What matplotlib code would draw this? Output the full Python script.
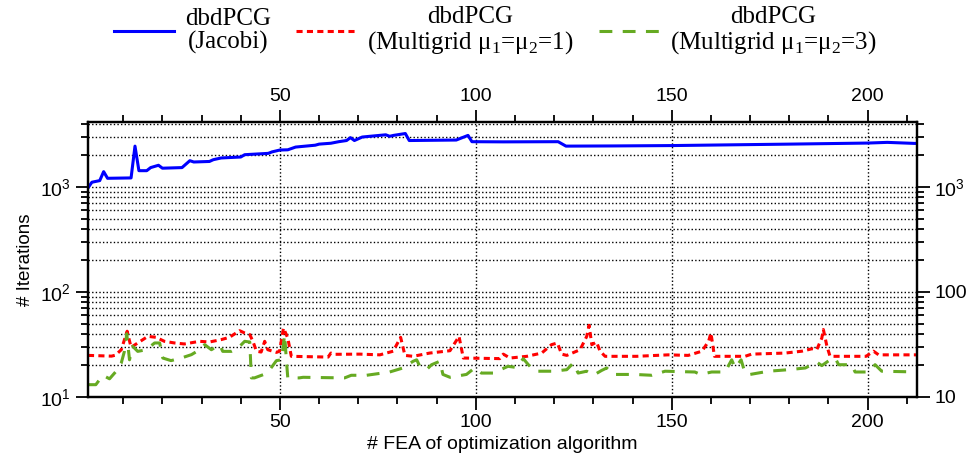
import matplotlib
matplotlib.use('Agg')
import matplotlib.pyplot as plt
from matplotlib.ticker import FixedLocator, FixedFormatter, MultipleLocator, LogLocator

plt.rcParams['font.family'] = 'Liberation Sans'

# dbdPCG with Jacobi preconditioner
jacobi_x = [1, 2, 4, 5, 6, 12, 13, 14, 16, 17, 19, 20, 25, 27, 28, 32, 33, 35, 40, 41,
            47, 48, 50, 52, 54, 59, 60, 63, 65, 67, 68, 69, 71, 73, 77, 78, 79, 82, 83,
            95, 98, 99, 107, 121, 123, 135, 150, 165, 180, 190, 200, 205, 212, 213]
jacobi_y = [980, 1110, 1150, 1400, 1210, 1220, 2450, 1430, 1430, 1530, 1610, 1510, 1530,
            1780, 1730, 1750, 1820, 1890, 1930, 2030, 2090, 2160, 2250, 2260, 2400, 2500,
            2560, 2610, 2700, 2770, 2950, 2770, 2990, 3040, 3140, 3040, 3100, 3230, 2770,
            2800, 3100, 2700, 2690, 2700, 2450, 2460, 2480, 2520, 2560, 2590, 2620, 2660,
            2600, 2600]

# dbdPCG with multigrid mu1=mu2=1
mg1_x = [1, 7, 8, 9.5, 11, 12, 13.7, 16.3, 18.4, 20.5, 23.1, 25.6, 29.5, 32, 35, 37.1,
         39.7, 41, 42.3, 43.1, 44, 45.2, 46.1, 46.9, 49.1, 49.9, 50.9, 52, 52.9, 62.3, 63,
         64, 70.4, 75.5, 78.9, 80.8, 81.9, 84, 88.2, 93.4, 95.7, 96.8, 106.1, 107, 108.7,
         113, 116.8, 119.3, 120.8, 121.9, 123.2, 126.6, 128.3, 128.9, 129.6, 130.8, 131.7,
         133, 141, 149.1, 154.2, 157.7, 159.4, 160, 160.9, 168.7, 170.4, 178.9, 183.2,
         185.8, 187, 188.3, 188.7, 189.6, 190.4, 199.6, 201.5, 202.8, 213]
mg1_y = [24.9, 24.5, 25, 28.2, 42.3, 29.7, 32.7, 37.8, 37, 33.9, 32.7, 32, 33.9, 33.4,
         35.2, 37, 42.8, 40.7, 39.3, 33.9, 27.3, 26.8, 33.9, 28.2, 26.6, 27.3, 45.4, 36.4,
         24.4, 24, 26.2, 25.5, 25.6, 25.2, 27.3, 37, 24.9, 24.4, 26.2, 27.6, 37.8, 23.5,
         23.2, 25.6, 23.5, 24.4, 26.2, 31.5, 32.7, 25.6, 24.9, 28.2, 37.8, 48.2, 31.5,
         33.4, 27.3, 24.4, 24.4, 25.2, 24.9, 27.3, 33.9, 40.7, 24.4, 24.4, 25.6, 26.2,
         27.3, 28.8, 28.2, 36.4, 43.9, 30.5, 24.4, 24.4, 27.3, 25.2, 25.2]

# dbdPCG with multigrid mu1=mu2=3
mg3_x = [1, 3, 4.8, 6.5, 8.2, 9.5, 10.3, 10.9, 11.6, 12.4, 13.7, 15.9, 18, 19.3, 20.1,
         22.2, 24.8, 27.4, 29.5, 30.8, 32.5, 34.6, 35.4, 37.6, 39.3, 41, 42.3, 42.7, 43.5,
         45.7, 47.4, 49.1, 50.4, 51.2, 51.6, 52, 54.9, 55.9, 66.5, 68.2, 72.1, 78, 81.4,
         84, 84.9, 85.7, 87.4, 88.7, 90.8, 91.6, 93.4, 97.6, 99.7, 101.4, 104.4, 108.2,
         110.4, 112.1, 113.4, 115.1, 119.7, 123.2, 124.9, 126.1, 128.3, 130, 132.1, 133.4,
         135.1, 140.6, 144.9, 148.3, 155.9, 157.3, 160.2, 163.6, 165.3, 166.2, 167.7,
         168.7, 170, 174.7, 179.8, 184.1, 187, 188.3, 190.4, 191.7, 192.6, 195.9, 196.8,
         200.2, 201.9, 203.6, 213]
mg3_y = [13.1, 13.1, 16.1, 14.9, 17.6, 21.1, 27.2, 40, 22.6, 30.4, 27.2, 28.2, 32.7,
         32.7, 23.5, 22.2, 23.5, 25.3, 28.2, 31.5, 28.2, 31.5, 27.2, 27.2, 29.3, 33.9,
         33.4, 15.2, 15.2, 16.3, 18.2, 22.2, 22.6, 39.2, 23.5, 15.2, 15.2, 15.4, 15.2,
         16.1, 16.1, 17.3, 18.9, 21.9, 22.6, 19.6, 18.2, 20.3, 21.9, 16.4, 15.4, 16.4,
         18.9, 16.9, 16.9, 19.6, 19.1, 23.2, 20.3, 17.6, 17.6, 18.2, 21.1, 16.9, 17.6,
         16.1, 17.9, 18.9, 16.4, 16.4, 16.1, 17.6, 17.3, 16.4, 17.3, 17.3, 22.6, 18.9,
         22.6, 16.9, 16.4, 17.6, 18.2, 18.9, 21.5, 19.9, 22.6, 23.5, 20.3, 20.3, 17.3,
         17.3, 20.3, 17.6, 17.3]

labels = ['dbdPCG\n(Jacobi)',
          'dbdPCG\n(Multigrid μ$_\\mathregular{1}$=μ$_\\mathregular{2}$=1)',
          'dbdPCG\n(Multigrid μ$_\\mathregular{1}$=μ$_\\mathregular{2}$=3)']

fig = plt.figure(figsize=(9.71, 4.67), dpi=100)
ax = fig.add_axes([0.0906, 0.1499, 0.8538, 0.5889])

l1, = ax.plot(jacobi_x, jacobi_y, color='#0000ff', lw=2.2, solid_joinstyle='round')
l2, = ax.plot(mg1_x, mg1_y, color='#ff0000', lw=2.2, linestyle=(0, (2.0, 1.4)))
l3, = ax.plot(mg3_x, mg3_y, color='#66aa22', lw=2.2, linestyle=(0, (4.2, 3.4)))

ax.set_yscale('log')
ax.set_ylim(10, 4160)
ax.set_xlim(1, 212.6)

ax.xaxis.set_major_locator(MultipleLocator(50))
ax.xaxis.set_minor_locator(MultipleLocator(10))

grid_kw = dict(color='black', linestyle=(0, (1, 1.6)), linewidth=1.0)
ax.grid(True, axis='x', which='major', **grid_kw)
ax.grid(True, axis='y', which='both', **grid_kw)
ax.set_axisbelow(True)

ax.tick_params(which='both', direction='out', top=True, labeltop=True,
               labelsize=14, width=1.3, color='black')
ax.tick_params(which='major', length=9)
ax.tick_params(which='minor', length=5)

# right axis carries its own labels
ax2 = ax.twinx()
ax2.set_yscale('log')
ax2.set_ylim(ax.get_ylim())
ax2.yaxis.set_major_locator(FixedLocator([10, 100, 1000]))
ax2.yaxis.set_major_formatter(FixedFormatter(['10', '100', r'$\mathdefault{10^{3}}$']))
ax2.yaxis.set_minor_locator(LogLocator(subs=range(2, 10)))
ax2.tick_params(which='both', direction='out', labelsize=14, width=1.3)
ax2.tick_params(which='major', length=9)
ax2.tick_params(which='minor', length=5)

for a in (ax, ax2):
    for s in a.spines.values():
        s.set_linewidth(1.6)

ax.set_xlabel('# FEA of optimization algorithm', fontsize=14, labelpad=3)
ax.set_ylabel('# Iterations', fontsize=13.5, labelpad=4)

leg = fig.legend([l1, l2, l3], labels, loc='upper center', bbox_to_anchor=(0.51, 1.035),
                 ncol=3, frameon=False, handlelength=2.4, handletextpad=0.45,
                 columnspacing=1.0, prop={'family': 'Liberation Serif', 'size': 18})
for t in leg.get_texts():
    t.set_multialignment('center')
    t.set_linespacing(1.05)

fig.savefig('out.png', dpi=100)
